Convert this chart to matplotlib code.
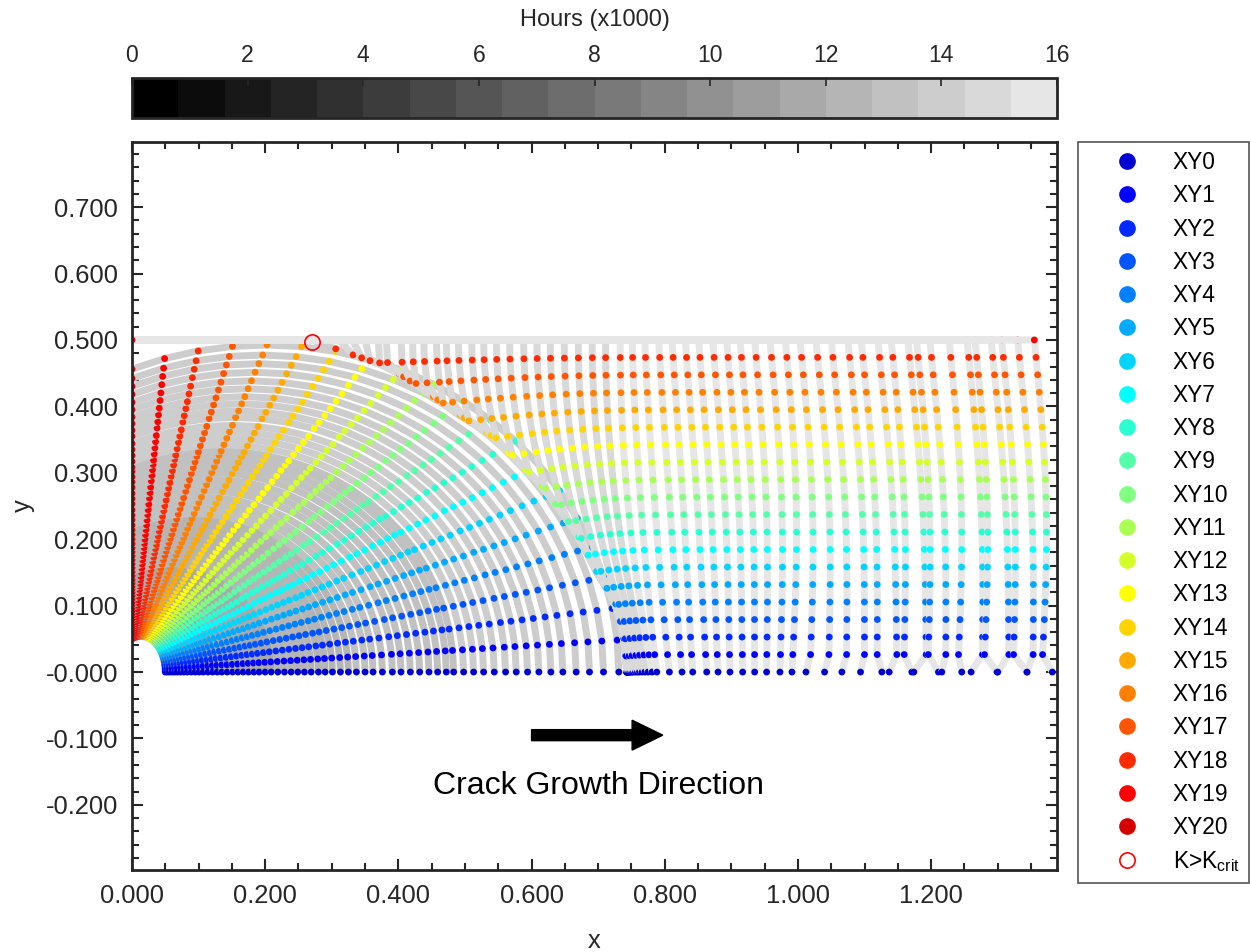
import numpy as np
import matplotlib
matplotlib.use('Agg')
import matplotlib.pyplot as plt
from matplotlib.colors import ListedColormap, BoundaryNorm, Normalize
from matplotlib.lines import Line2D
from matplotlib.ticker import MultipleLocator
import matplotlib.cm as cm

plt.rcParams['font.family'] = ['Liberation Sans', 'DejaVu Sans']

# ---- corner crack fronts (before breakthrough) ----
# a1: crack tip on y=0 (XY0), c1: crack tip on x=0 (XY20)
a1 = [0.050, 0.053, 0.056, 0.060, 0.064, 0.068, 0.073, 0.078, 0.083, 0.089,
      0.095, 0.101, 0.107, 0.114, 0.121, 0.128, 0.135, 0.143, 0.151, 0.159,
      0.167, 0.175, 0.183, 0.191, 0.200, 0.209, 0.219, 0.229, 0.239, 0.249,
      0.259, 0.269, 0.280, 0.290, 0.301, 0.313, 0.325, 0.337, 0.350, 0.362,
      0.376, 0.391, 0.404, 0.418, 0.432, 0.446, 0.459, 0.472, 0.483, 0.498,
      0.513, 0.528, 0.544, 0.561, 0.577, 0.594, 0.611, 0.629, 0.647, 0.667,
      0.687, 0.708, 0.731]
c1 = [0.050, 0.052, 0.054, 0.056, 0.058, 0.061, 0.064, 0.067, 0.070, 0.073,
      0.077, 0.080, 0.084, 0.088, 0.092, 0.097, 0.101, 0.105, 0.110, 0.115,
      0.120, 0.125, 0.129, 0.134, 0.139, 0.145, 0.151, 0.157, 0.163, 0.169,
      0.175, 0.181, 0.187, 0.193, 0.200, 0.207, 0.214, 0.221, 0.229, 0.236,
      0.244, 0.253, 0.261, 0.269, 0.278, 0.286, 0.294, 0.302, 0.308, 0.317,
      0.326, 0.335, 0.344, 0.355, 0.364, 0.374, 0.384, 0.395, 0.406, 0.418,
      0.430, 0.442, 0.456]
hours1 = [9.70, 9.78, 9.86, 9.94, 10.02, 10.10, 10.18, 10.26,
          10.42, 10.50, 10.58, 10.66, 10.74, 10.82, 10.90, 10.98,
          11.22, 11.30, 11.38, 11.46, 11.54, 11.62, 11.70, 11.78, 11.86, 11.94,
          12.02, 12.09, 12.16, 12.23, 12.30, 12.37, 12.44, 12.51, 12.58, 12.65, 12.72,
          12.82, 12.88, 12.94, 13.00, 13.06, 13.12, 13.18, 13.24, 13.30, 13.36, 13.42, 13.50,
          13.62, 13.67, 13.72, 13.77, 13.82, 13.87, 13.92, 13.97, 14.02, 14.07, 14.12,
          14.17, 14.22, 14.27]
center_ratio = 0.274   # front centre on x axis / a

# ---- through crack fronts (after breakthrough) ----
# t2: x at top face (XY19), b2: x of the front body at y=0, x0_2: XY0 point
t2 = [0.270, 0.311, 0.331, 0.350, 0.370, 0.382, 0.404, 0.421, 0.438, 0.457,
      0.472, 0.490, 0.510, 0.528, 0.547, 0.567, 0.588, 0.608, 0.628, 0.649,
      0.670, 0.691, 0.711, 0.733, 0.751, 0.770, 0.791, 0.811, 0.831, 0.851,
      0.872, 0.893, 0.913, 0.935, 0.958, 0.981, 1.003, 1.027, 1.050, 1.075,
      1.095, 1.120, 1.140, 1.165, 1.178, 1.198, 1.227, 1.254, 1.266, 1.290,
      1.306, 1.330, 1.355]
b2 = [0.743, 0.743, 0.743, 0.743, 0.743, 0.743, 0.744, 0.744, 0.744, 0.745,
      0.745, 0.746, 0.747, 0.748, 0.749, 0.751, 0.753, 0.756, 0.759, 0.762,
      0.766, 0.770, 0.775, 0.781, 0.788, 0.807, 0.826, 0.842, 0.863, 0.880,
      0.898, 0.917, 0.935, 0.953, 0.973, 0.991, 1.018, 1.046, 1.073, 1.100,
      1.119, 1.149, 1.159, 1.193, 1.195, 1.222, 1.240, 1.277, 1.279, 1.317,
      1.323, 1.353, 1.366]
x0_2 = [0.743, 0.743, 0.743, 0.743, 0.743, 0.743, 0.744, 0.744, 0.744, 0.745,
        0.745, 0.746, 0.747, 0.748, 0.749, 0.751, 0.753, 0.756, 0.759, 0.762,
        0.766, 0.770, 0.775, 0.781, 0.788, 0.807, 0.826, 0.842, 0.863, 0.880,
        0.898, 0.917, 0.935, 0.953, 0.973, 0.991, 1.012, 1.040, 1.066, 1.094,
        1.126, 1.137, 1.171, 1.174, 1.211, 1.216, 1.246, 1.260, 1.299, 1.300,
        1.344, 1.344, 1.382]
w2 = [0.0] * 24 + [0.004, 0.006, 0.008, 0.009, 0.010, 0.011, 0.012, 0.012,
                   0.013, 0.013, 0.014, 0.014] + [0.015] * 17
hours2 = [14.30, 14.42, 14.46, 14.49, 14.53, 14.56, 14.60, 14.63, 14.67, 14.70,
          14.74, 14.77, 14.81, 14.84, 14.88, 14.91, 14.95, 14.98, 15.02, 15.05,
          15.09, 15.12, 15.16, 15.22, 15.25, 15.27, 15.30, 15.32, 15.35, 15.37,
          15.40, 15.42, 15.45, 15.47, 15.50, 15.52, 15.55, 15.57, 15.60, 15.62,
          15.65, 15.67, 15.70, 15.72, 15.75, 15.77, 15.80, 15.82, 15.85, 15.87,
          15.90, 15.92, 15.95]
# first front after breakthrough (lower bound of the through crack fronts)
d_y = [0.0, 0.044, 0.078, 0.108, 0.143, 0.209, 0.279, 0.360, 0.390, 0.422, 0.459, 0.485, 0.500]
d_x = [0.743, 0.740, 0.733, 0.725, 0.702, 0.668, 0.617, 0.535, 0.487, 0.442, 0.386, 0.310, 0.270]

kcrit_x, kcrit_y = 0.270, 0.497

point_labels = ['XY%d' % k for k in range(21)]
point_colors = ['#0000d4', '#0000ff', '#002aff', '#0055ff', '#0080ff', '#00aaff', '#00d4ff',
                '#00ffff', '#2affd4', '#55ffaa', '#80ff80', '#aaff55', '#d4ff2a', '#ffff00',
                '#ffd400', '#ffaa00', '#ff8000', '#ff5500', '#ff2a00', '#ff0000', '#d40000']

xticks = [0.0, 0.2, 0.4, 0.6, 0.8, 1.0, 1.2]
xticklabels = ['0.000', '0.200', '0.400', '0.600', '0.800', '1.000', '1.200']
yticks = [-0.2, -0.1, 0.0, 0.1, 0.2, 0.3, 0.4, 0.5, 0.6, 0.7]
yticklabels = ['-0.200', '-0.100', '-0.000', '0.100', '0.200', '0.300', '0.400',
               '0.500', '0.600', '0.700']

gray_levels = np.linspace(0, 0.9, 20)
cmap = ListedColormap([(g, g, g) for g in gray_levels])
bnorm = BoundaryNorm(np.linspace(0, 16, 21), cmap.N)

W, H = 1250, 952
fig = plt.figure(figsize=(W / 100, H / 100), dpi=100)
ax = fig.add_axes([132 / W, 1 - 870 / H, 925 / W, 728 / H])

lw = 5
ms2 = 24

# corner crack
for a, c, h in zip(a1, c1, hours1):
    xc = center_ratio * a
    A = a - xc
    B = c / np.sqrt(1 - (xc / A) ** 2)
    phi = np.linspace(0, np.arccos(-xc / A), 21)
    x = xc + A * np.cos(phi)
    y = B * np.sin(phi)
    x[-1] = 0.0
    ax.plot(x, y, '-', color=cmap(bnorm(h)), lw=lw, zorder=2,
            solid_joinstyle='round', solid_capstyle='butt')
    ax.scatter(x, y, s=ms2, c=point_colors, linewidths=0, zorder=2)

# through crack
yy = np.linspace(0, 0.5, 400)
u = yy / 0.5
dd = np.interp(yy, d_y, d_x)
for b, x0, t, w, h in zip(b2, x0_2, t2, w2, hours2):
    xx = np.maximum(b + (t - b) * (2 * u - u ** 2) + w * np.sin(np.pi * u), dd)
    s = np.concatenate([[0], np.cumsum(np.hypot(np.diff(xx), np.diff(yy)))])
    sk = np.linspace(0, s[-1], 20)
    x = np.append(np.interp(sk, s, xx), 0.0)
    y = np.append(np.interp(sk, s, yy), 0.5)
    x[0] = x0
    ax.plot(x, y, '-', color=cmap(bnorm(h)), lw=lw, zorder=2,
            solid_joinstyle='round', solid_capstyle='butt')
    ax.scatter(x, y, s=ms2, c=point_colors, linewidths=0, zorder=2)

ax.plot(kcrit_x, kcrit_y, 'o', mfc='none', mec='red', ms=11, mew=1.2, zorder=3)

# arrow + text
ax.arrow(0.6, -0.095, 0.197, 0, width=0.0166, head_width=0.045, head_length=0.046,
         length_includes_head=True, fc='black', ec='black', zorder=3)
ax.text(0.70, -0.172, 'Crack Growth Direction', ha='center', va='center',
        fontsize=23, color='black')

ax.set_xlim(0, 1.389)
ax.set_ylim(-0.298, 0.798)
ax.set_xticks(xticks)
ax.set_xticklabels(xticklabels)
ax.set_yticks(yticks)
ax.set_yticklabels(yticklabels)
ax.xaxis.set_minor_locator(MultipleLocator(0.05))
ax.yaxis.set_minor_locator(MultipleLocator(0.02))
ax.tick_params(which='both', direction='in', top=True, right=True,
               colors='#262626', labelsize=18.4, width=1.5)
ax.tick_params(which='major', length=8, pad=10)
ax.tick_params(which='minor', length=5)
for sp in ax.spines.values():
    sp.set_linewidth(2)
    sp.set_color('#262626')
ax.set_xlabel('x', fontsize=18.4, color='#262626', labelpad=15)
ax.set_ylabel('y', fontsize=18.4, color='#262626', labelpad=8)

# colorbar
cax = fig.add_axes([132 / W, 1 - 118 / H, 925 / W, 40 / H])
sm = cm.ScalarMappable(norm=Normalize(0, 16), cmap=cmap)
cb = fig.colorbar(sm, cax=cax, orientation='horizontal', ticks=list(range(0, 17, 2)))
cax.xaxis.set_ticks_position('top')
cax.xaxis.set_label_position('top')
cax.tick_params(direction='in', length=6, width=1.2, colors='#262626', labelsize=16.5, pad=8)
cb.outline.set_linewidth(2)
cb.outline.set_edgecolor('#262626')
cb.set_label('Hours (x1000)', fontsize=17, color='#262626', labelpad=13)

# legend
handles = [Line2D([], [], ls='none', marker='o', ms=11, mfc=col, mec=col) for col in point_colors]
handles.append(Line2D([], [], ls='none', marker='o', ms=11, mfc='none', mec='red', mew=1.2))
labels = point_labels + [r'K>K$_\mathregular{crit}$']
leg = fig.legend(handles, labels, loc='upper left', bbox_to_anchor=(1078 / W, 1 - 142 / H),
                 fontsize=16.4, labelspacing=0.45, handlelength=3.5, handletextpad=0.26,
                 borderpad=0.4, borderaxespad=0, fancybox=False, framealpha=1)
leg.get_frame().set_edgecolor('#555555')
leg.get_frame().set_linewidth(1.2)

fig.savefig('out.png', dpi=100)
